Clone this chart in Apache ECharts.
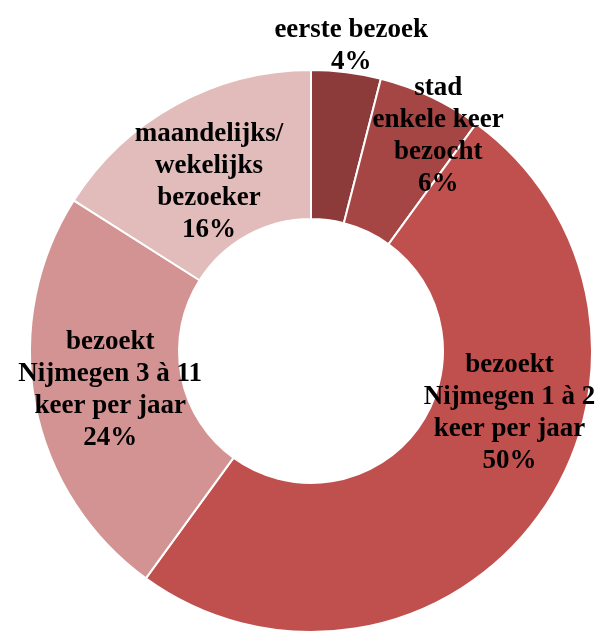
<!DOCTYPE html>
<html lang="nl">
<head>
  <meta charset="utf-8" />
  <title>Bezoekfrequentie Nijmegen</title>
  <script src="https://cdn.jsdelivr.net/npm/echarts@6/dist/echarts.min.js"></script>
  <style>
    html, body { margin: 0; padding: 0; background: #fff; }
    #chart { width: 600px; height: 632px; }
  </style>
</head>
<body>
  <div id="chart"></div>
  <script>
    // data
    var categories = [
      'eerste bezoek',
      'stad\nenkele keer\nbezocht',
      'bezoekt\nNijmegen 1 à 2\nkeer per jaar',
      'bezoekt\nNijmegen 3 à 11\nkeer per jaar',
      'maandelijks/\nwekelijks\nbezoeker'
    ];
    var percents = [4, 6, 50, 24, 16];

    // style
    var sliceColors = ['#8c3b3a', '#a64644', '#c0504d', '#d39392', '#e1bcbb'];
    // the smallest slice has its label above the ring (too narrow to hold it)
    var labelPlace = ['outside', 'inside', 'inside', 'inside', 'inside'];
    var labelShift = [[0, -26], [38, -25], [29, -61], [5, 0], [-1, 15]];

    var chart = echarts.init(document.getElementById('chart'));
    var pieData = categories.map(function (name, i) {
      return {
        name: name,
        value: percents[i],
        itemStyle: { color: sliceColors[i] },
        label: { position: labelPlace[i], offset: labelShift[i] },
        labelLine: { show: false, length: 0, length2: 0 }
      };
    });

    chart.setOption({
      animation: false,
      series: [{
        type: 'pie',
        center: [311, 351],
        radius: [132, 281],
        startAngle: 90,
        clockwise: true,
        avoidLabelOverlap: false,
        itemStyle: { borderColor: '#ffffff', borderWidth: 2 },
        label: {
          show: true,
          position: 'inside',
          formatter: function (p) { return p.name + '\n' + p.value + '%'; },
          color: '#000',
          fontFamily: 'Liberation Serif',
          fontWeight: 'bold',
          fontSize: 27,
          lineHeight: 32,
          align: 'center'
        },
        labelLayout: function (p) {
          if (p.dataIndex === 0) return { align: 'center' };
        },
        labelLine: { show: false },
        emphasis: { disabled: true },
        data: pieData
      }]
    });
  </script>
</body>
</html>
